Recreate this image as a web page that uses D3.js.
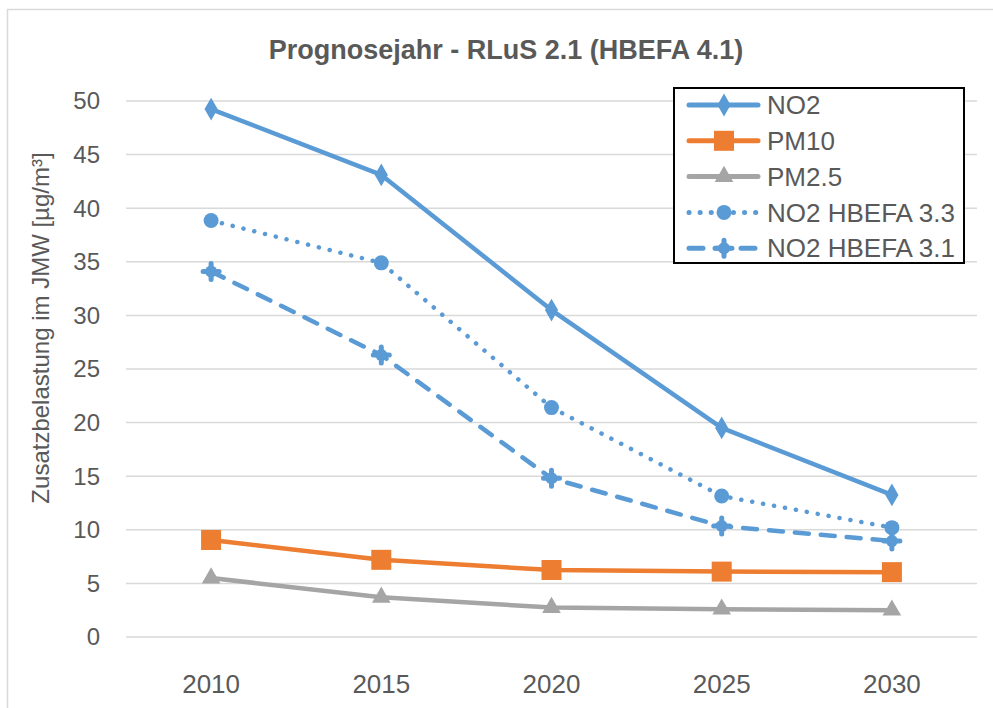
<!DOCTYPE html>
<html>
<head>
  <meta charset='utf-8'>
  <style>
  body { margin: 0; background: #fff; }
  text { font-family: 'Liberation Sans', Arial, sans-serif; fill: #595959; }
  .grid line { stroke: #d9d9d9; stroke-width: 1.5px; }
  .line { fill: none; stroke-width: 4.5px; stroke-linejoin: round; }
  </style>
</head>
<body>
<script src='https://d3js.org/d3.v7.min.js'></script>
<script>

var years = ['2010', '2015', '2020', '2025', '2030'];
var yTicks = [0, 5, 10, 15, 20, 25, 30, 35, 40, 45, 50];

var no2      = [49.25, 43.1, 30.5, 19.5, 13.25];
var pm10     = [9.05, 7.2, 6.25, 6.1, 6.05];
var pm25     = [5.5, 3.7, 2.75, 2.6, 2.5];
var no2_33   = [38.85, 34.9, 21.4, 13.15, 10.2];
var no2_31   = [34.1, 26.3, 14.8, 10.35, 8.95];

var seriesNames = ['NO2', 'PM10', 'PM2.5', 'NO2 HBEFA 3.3', 'NO2 HBEFA 3.1'];

var BLUE = '#5b9bd5', ORANGE = '#ed7d31', GRAY = '#a5a5a5';

var series = [
  {name: seriesNames[0], values: no2,    color: BLUE,   dash: null,        cap: 'butt',  marker: 'diamond'},
  {name: seriesNames[1], values: pm10,   color: ORANGE, dash: null,        cap: 'butt',  marker: 'square'},
  {name: seriesNames[2], values: pm25,   color: GRAY,   dash: null,        cap: 'butt',  marker: 'triangle'},
  {name: seriesNames[3], values: no2_33, color: BLUE,   dash: '0.1 11',    cap: 'round', marker: 'circle'},
  {name: seriesNames[4], values: no2_31, color: BLUE,   dash: '14 12',     cap: 'round', marker: 'plus'}
];

var SVG_WIDTH = 993;
var SVG_HEIGHT = 708;

var svg = d3.select('body').append('svg')
    .attr('width', SVG_WIDTH)
    .attr('height', SVG_HEIGHT);

// chart area border
svg.append('rect')
    .attr('x', 7.5).attr('y', 9.5)
    .attr('width', SVG_WIDTH).attr('height', SVG_HEIGHT)
    .attr('fill', 'none').attr('stroke', '#d9d9d9').attr('stroke-width', 1.5);

var margin = {top: 101, left: 126, right: 16, bottom: 71};
var width = SVG_WIDTH - margin.left - margin.right,
    height = SVG_HEIGHT - margin.top - margin.bottom;

var g = svg.append('g').attr('transform', 'translate(' + margin.left + ',' + margin.top + ')');

var x = d3.scaleBand().domain(years).range([0, width]);
var y = d3.scaleLinear().domain([0, 50]).range([height, 0]);

g.append('g')
    .attr('class', 'grid')
  .selectAll('line')
  .data(yTicks)
  .enter().append('line')
    .attr('x1', 0).attr('x2', width)
    .attr('y1', function(d) { return y(d); })
    .attr('y2', function(d) { return y(d); });

g.append('g').selectAll('text')
  .data(yTicks)
  .enter().append('text')
    .attr('x', -26)
    .attr('y', function(d) { return y(d); })
    .attr('dy', '0.35em')
    .style('text-anchor', 'end')
    .style('font-size', '24px')
    .text(function(d) { return d; });

g.append('g').selectAll('text')
  .data(years)
  .enter().append('text')
    .attr('x', function(d) { return x(d) + x.bandwidth() / 2; })
    .attr('y', height + 56)
    .style('text-anchor', 'middle')
    .style('font-size', '26px')
    .text(function(d) { return d; });

svg.append('text')
    .attr('transform', 'translate(49,328) rotate(-90)')
    .style('text-anchor', 'middle')
    .style('font-size', '24px')
    .text('Zusatzbelastung im JMW [µg/m³]');

svg.append('text')
    .attr('x', 506).attr('y', 59)
    .style('text-anchor', 'middle')
    .style('font-size', '27px')
    .style('font-weight', 'bold')
    .text('Prognosejahr - RLuS 2.1 (HBEFA 4.1)');

var line = d3.line()
    .x(function(d, i) { return x(years[i]) + x.bandwidth() / 2; })
    .y(function(d) { return y(d); });

function drawMarker(sel, type, color) {
  if (type === 'circle') {
    sel.append('circle').attr('r', 7.5).attr('fill', color);
  } else if (type === 'square') {
    sel.append('rect').attr('x', -10).attr('y', -10).attr('width', 20).attr('height', 20).attr('fill', color);
  } else if (type === 'diamond') {
    sel.append('path').attr('d', d3.symbol().type(d3.symbolDiamond).size(150)).attr('fill', color);
  } else if (type === 'triangle') {
    sel.append('path').attr('d', d3.symbol().type(d3.symbolTriangle).size(150)).attr('fill', color);
  } else if (type === 'plus') {
    sel.append('circle').attr('r', 6).attr('fill', color);
    sel.append('path').attr('d', 'M-8,0H8M0,-8V8')
        .attr('stroke', color).attr('stroke-width', 5).attr('stroke-linecap', 'round');
  }
}

series.forEach(function(s) {
  g.append('path')
      .datum(s.values)
      .attr('class', 'line')
      .attr('stroke', s.color)
      .attr('stroke-dasharray', s.dash)
      .attr('stroke-linecap', s.cap)
      .attr('d', line);

  g.append('g').selectAll('g')
    .data(s.values)
    .enter().append('g')
      .attr('transform', function(d, i) {
        return 'translate(' + (x(years[i]) + x.bandwidth() / 2) + ',' + y(d) + ')';
      })
      .each(function() { drawMarker(d3.select(this), s.marker, s.color); });
});

// legend
var legend = svg.append('g').attr('transform', 'translate(674,88)');
legend.append('rect')
    .attr('width', 290).attr('height', 175)
    .attr('fill', '#fff').attr('stroke', '#000').attr('stroke-width', 2);

var item = legend.selectAll('.item')
  .data(series)
  .enter().append('g')
    .attr('class', 'item')
    .attr('transform', function(d, i) { return 'translate(0,' + (17 + i * 35.8) + ')'; });

item.append('line')
    .attr('x1', 15).attr('x2', 84)
    .attr('stroke', function(d) { return d.color; })
    .attr('stroke-width', 5)
    .attr('stroke-linecap', 'round')
    .attr('stroke-dasharray', function(d) { return d.dash; });

item.append('g')
    .attr('transform', 'translate(50,0)')
    .each(function(d) { drawMarker(d3.select(this), d.marker, d.color); });

item.append('text')
    .attr('x', 93)
    .attr('dy', '0.35em')
    .style('font-size', '26px')
    .text(function(d) { return d.name; });

</script>
</body>
</html>
